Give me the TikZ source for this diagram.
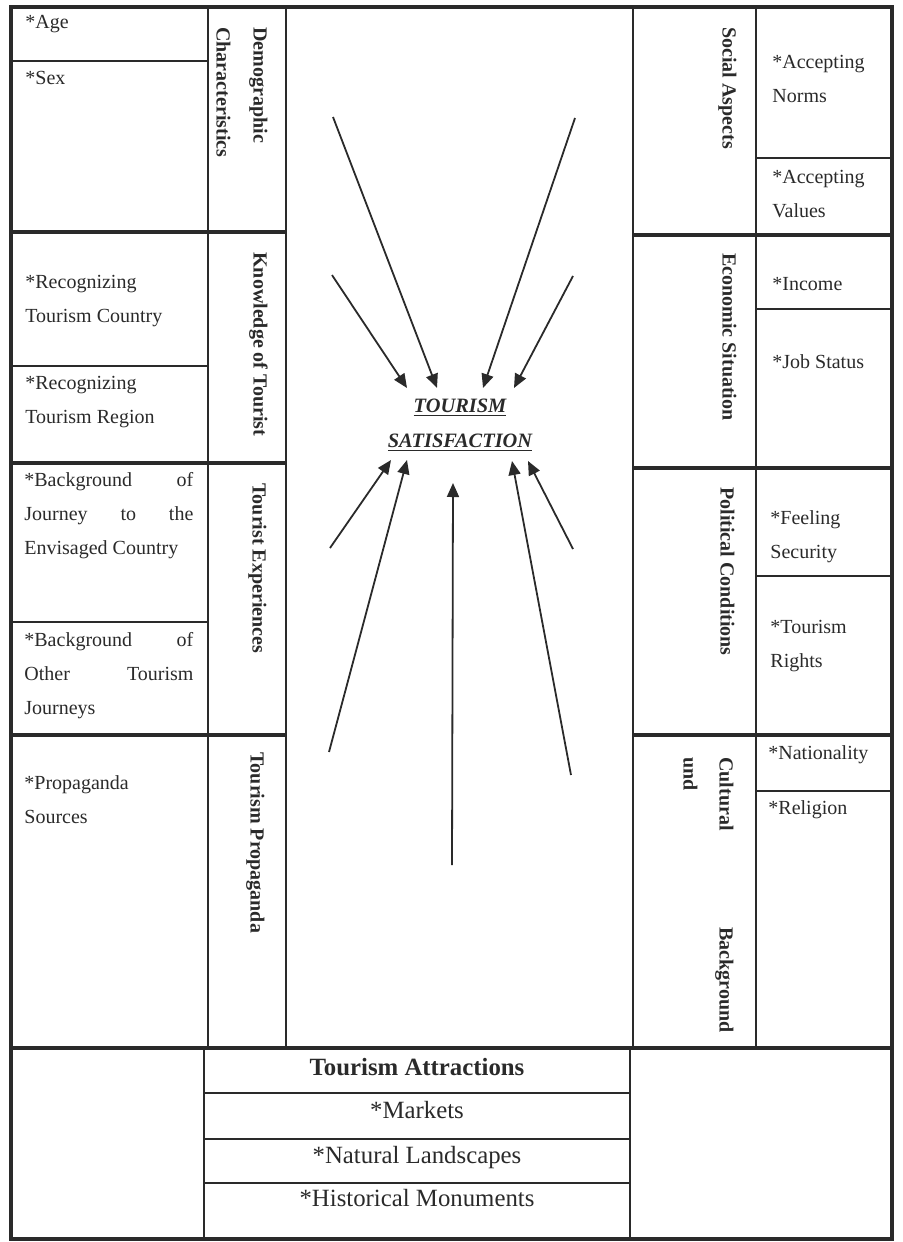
\documentclass[tikz,border=0pt]{standalone}
\usepackage{fontspec}
\setmainfont{Liberation Serif}
\usetikzlibrary{arrows.meta}
\definecolor{ink}{HTML}{2A2A2A}
\begin{document}
\begin{tikzpicture}[x=0.5pt,y=-0.5pt,
  frame/.style={draw=ink,line width=2pt},
  rule/.style={draw=ink,line width=0.7pt},
  sub/.style={anchor=north west,inner sep=0pt,align=left,text=ink,font=\fontsize{10}{17}\selectfont},
  lab/.style={rotate=-90,anchor=north west,inner sep=0pt,align=left,text=ink,font=\fontsize{10}{18.5}\selectfont\bfseries},
  attr/.style={anchor=base,inner sep=0pt,text=ink,font=\fontsize{12.4}{15}\selectfont},
  arr/.style={draw=ink,line width=0.9pt,-{Triangle[length=7pt,width=6pt]}}]
\useasboundingbox (0,0) rectangle (903,1242);
% grid
\draw[rule] (208,7) -- (208,1048);
\draw[rule] (286,7) -- (286,1048);
\draw[rule] (633,7) -- (633,1048);
\draw[rule] (756,7) -- (756,1048);
\draw[rule] (204,1048) -- (204,1239);
\draw[rule] (630,1048) -- (630,1239);
\draw[rule] (11,61) -- (208,61);
\draw[rule] (11,366) -- (208,366);
\draw[rule] (11,622) -- (208,622);
\draw[rule] (756,158) -- (892,158);
\draw[rule] (756,309) -- (892,309);
\draw[rule] (756,576) -- (892,576);
\draw[rule] (756,791) -- (892,791);
\draw[rule] (204,1093) -- (630,1093);
\draw[rule] (204,1139) -- (630,1139);
\draw[rule] (204,1183) -- (630,1183);
\draw[frame] (11,232) -- (286,232);
\draw[frame] (11,463) -- (286,463);
\draw[frame] (11,735) -- (286,735);
\draw[frame] (633,235) -- (892,235);
\draw[frame] (633,468) -- (892,468);
\draw[frame] (633,735) -- (892,735);
\draw[frame] (11,1048) -- (892,1048);
\draw[frame] (11,7) rectangle (892,1239);
% left sub-boxes
\node[sub] (age) at (25,14.5) {*Age};
\node[sub] (sex) at (25,70.5) {*Sex};
\node[sub] (rcountry) at (25,274.5) {*Recognizing\\Tourism Country};
\node[sub] (rregion) at (25,375.5) {*Recognizing\\Tourism Region};
\node[sub] (bgjourney) at (24,472.5) {\makebox[84.5pt][s]{*Background of}\\\makebox[84.5pt][s]{Journey to the}\\Envisaged Country};
\node[sub] (bgother) at (24,632.5) {\makebox[84.5pt][s]{*Background of}\\\makebox[84.5pt][s]{Other Tourism}\\Journeys};
\node[sub] (propsrc) at (24,775.5) {*Propaganda\\Sources};
% right sub-boxes
\node[sub] (norms) at (772,54.5) {*Accepting\\Norms};
\node[sub] (values) at (772,169.5) {*Accepting\\Values};
\node[sub] (income) at (772,277.5) {*Income};
\node[sub] (job) at (772,354.5) {*Job Status};
\node[sub] (security) at (770,510.5) {*Feeling\\Security};
\node[sub] (rights) at (770,619.5) {*Tourism\\Rights};
\node[sub] (nation) at (768,745.5) {*Nationality};
\node[sub] (religion) at (768,800.5) {*Religion};
% rotated labels
\node[lab] (demo) at (268,27) {Demographic\\Characteristics};
\node[lab] (know) at (268,252) {Knowledge of Tourist};
\node[lab] (exper) at (267,483) {Tourist Experiences};
\node[lab] (propa) at (265,752) {Tourism Propaganda};
\node[lab] (social) at (737,27) {Social Aspects};
\node[lab] (econ) at (737,253) {Economic Situation};
\node[lab] (polit) at (735,487) {Political Conditions};
\node[lab,font=\fontsize{10}{18}\selectfont\bfseries] (cult) at (734,757) {\makebox[137.5pt][s]{Cultural Background}\\und};
% bottom
\node[attr,font=\fontsize{12.4}{15}\selectfont\bfseries] (attr) at (417,1075) {Tourism Attractions};
\node[attr] (markets) at (417,1118) {*Markets};
\node[attr] (natural) at (417,1163) {*Natural Landscapes};
\node[attr] (historic) at (417,1206) {*Historical Monuments};
% centre
\node[anchor=north,inner sep=0pt,align=center,text=ink,font=\fontsize{10.2}{17.5}\selectfont\bfseries\itshape] (ts) at (460,398.5) {\underline{TOURISM}\\\underline{SATISFACTION}};
% arrow ends
\coordinate (ua1) at (333,117); \coordinate (ut1) at (437,388);
\coordinate (ua2) at (332,275); \coordinate (ut2) at (407,388);
\coordinate (ua3) at (575,118); \coordinate (ut3) at (483,388);
\coordinate (ua4) at (573,276); \coordinate (ut4) at (514,388);
\coordinate (la1) at (330,548); \coordinate (lt1) at (391,460);
\coordinate (la2) at (329,752); \coordinate (lt2) at (407,460);
\coordinate (la3) at (452,865); \coordinate (lt3) at (453,483);
\coordinate (la4) at (571,775); \coordinate (lt4) at (512,461);
\coordinate (la5) at (573,549); \coordinate (lt5) at (528,461);
\draw[arr] (ua1) -- (ut1);
\draw[arr] (ua2) -- (ut2);
\draw[arr] (ua3) -- (ut3);
\draw[arr] (ua4) -- (ut4);
\draw[arr] (la1) -- (lt1);
\draw[arr] (la2) -- (lt2);
\draw[arr] (la3) -- (lt3);
\draw[arr] (la4) -- (lt4);
\draw[arr] (la5) -- (lt5);
\end{tikzpicture}
\end{document}
